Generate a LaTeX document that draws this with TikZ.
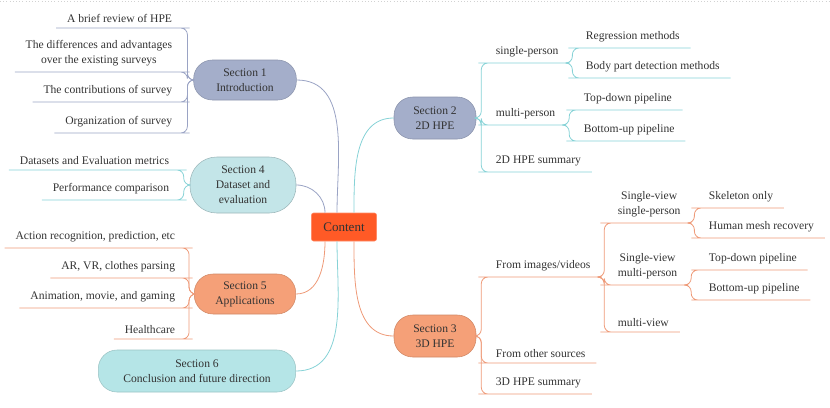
\documentclass[tikz,border=0pt]{standalone}
\usepackage{fontspec}
\setmainfont{Liberation Serif}
\usepackage{tikz}
\usetikzlibrary{positioning}
\definecolor{contentred}{HTML}{FF5A26}
\definecolor{bluegray}{HTML}{A4AECA}
\definecolor{lightcyan}{HTML}{C3E5E8}
\definecolor{cyanfill}{HTML}{B5E5E7}
\definecolor{salmon}{HTML}{F5A078}
\definecolor{linegray}{HTML}{9AA3C4}
\definecolor{linecyan}{HTML}{86D2D6}
\definecolor{linesalmon}{HTML}{EE9A78}
\definecolor{textgray}{HTML}{333333}

\begin{document}
\begin{tikzpicture}[x=0.75pt, y=-0.75pt, font=\fontsize{8.7}{11.25}\selectfont, text=textgray]
\tikzstyle{sect}=[rectangle, rounded corners=14pt, align=center, minimum height=30pt, inner sep=2pt, line width=0.4pt]
\tikzstyle{root}=[rectangle, rounded corners=1.5pt, fill=contentred, draw=contentred!70, minimum width=48.75pt, minimum height=21pt, font=\fontsize{9.8}{12}\selectfont]
\tikzstyle{lleaf}=[anchor=south east, inner xsep=8pt, inner ysep=4pt, align=center]
\tikzstyle{rleaf}=[anchor=south west, inner xsep=8pt, inner ysep=4pt, align=center]
\tikzstyle{link}=[line width=0.6pt, rounded corners=5pt]
\tikzstyle{linkA}=[link, draw=linegray]
\tikzstyle{linkB}=[link, draw=linecyan]
\tikzstyle{linkC}=[link, draw=linesalmon]

  \useasboundingbox (0,0) rectangle (830,407);
  \draw[gray!35, dotted] (0,1) -- (830,1);

  \node[root] (content) at (344,227) {Content};

  \node[sect, fill=bluegray, draw=bluegray!85!black, minimum width=77pt] (sec1) at (245,80) {Section 1\\Introduction};
  \node[sect, fill=bluegray, draw=bluegray!85!black, minimum width=61.5pt, minimum height=31.5pt] (sec2) at (435,118) {Section 2\\2D HPE};
  \node[sect, fill=lightcyan, draw=lightcyan!80!black, minimum width=79.5pt, minimum height=42pt, rounded corners=20pt] (sec4) at (243,185) {Section 4\\Dataset and\\evaluation};
  \node[sect, fill=salmon, draw=salmon!85!black, minimum width=76pt] (sec5) at (245,294) {Section 5\\Applications};
  \node[sect, fill=salmon, draw=salmon!85!black, minimum width=61.5pt, minimum height=31.5pt] (sec3) at (435,336) {Section 3\\3D HPE};
  \node[sect, fill=cyanfill, draw=cyanfill!85!black, minimum width=148pt, minimum height=31.5pt] (sec6) at (197,371) {Section 6\\Conclusion and future direction};

  \node[lleaf] (brief)   at (183,28)  {A brief review of HPE};
  \node[lleaf] (diff)    at (183,72)  {The differences and advantages\\over the existing surveys};
  \node[lleaf] (contrib) at (183,102) {The contributions of survey};
  \node[lleaf] (organ)   at (183,133) {Organization of survey};

  \node[lleaf] (metrics) at (180,170) {Datasets and Evaluation metrics};
  \node[lleaf] (perf)    at (180,200) {Performance comparison};

  \node[lleaf] (action)  at (186,248) {Action recognition, prediction, etc};
  \node[lleaf] (arvr)    at (186,278) {AR, VR, clothes parsing};
  \node[lleaf] (anim)    at (186,308) {Animation, movie, and gaming};
  \node[lleaf] (health)  at (186,339) {Healthcare};

  \node[rleaf] (single)  at (485,63)  {single-person};
  \node[rleaf] (multi)   at (485,125) {multi-person};
  \node[rleaf] (sumtwo)  at (485,172) {2D HPE summary};
  \node[rleaf] (regr)    at (575,48)  {Regression methods};
  \node[rleaf] (body)    at (575,78)  {Body part detection methods};
  \node[rleaf] (topdown) at (573,110) {Top-down pipeline};
  \node[rleaf] (botup)   at (573,141) {Bottom-up pipeline};

  \node[rleaf] (images)  at (485,277) {From images/videos};
  \node[rleaf] (other)   at (485,363) {From other sources};
  \node[rleaf] (sumthree) at (485,394) {3D HPE summary};
  \node[rleaf] (svsp)    at (607,223) {Single-view\\single-person};
  \node[rleaf] (svmp)    at (607,285) {Single-view\\multi-person};
  \node[rleaf] (mview)   at (607,332) {multi-view};
  \node[rleaf] (skel)    at (698,208) {Skeleton only};
  \node[rleaf] (mesh)    at (698,238) {Human mesh recovery};
  \node[rleaf] (topdownthree) at (698,270) {Top-down pipeline};
  \node[rleaf] (botupthree)   at (698,300) {Bottom-up pipeline};

  \path ([xshift=-5.25pt]content.north)  edge [linkA, out=90, in=0]   (sec1.east);
  \path ([xshift=-14.25pt]content.north) edge [linkA, out=90, in=0]   (sec4.east);
  \path ([xshift=7.5pt]content.north)    edge [linkB, out=90, in=180] (sec2.west);
  \path ([xshift=-14.25pt]content.south) edge [linkC, out=-90, in=0]  (sec5.east);
  \path ([xshift=-5.25pt]content.south)  edge [linkB, out=-90, in=0]  (sec6.east);
  \path ([xshift=7.5pt]content.south)    edge [linkC, out=-90, in=180] (sec3.west);

  \foreach \leaf in {brief, diff, contrib, organ}
    \draw[linkA] (sec1.west) -- ++(-6,0) |- (\leaf.south east) -- (\leaf.south west);
  \foreach \leaf in {metrics, perf}
    \draw[linkB] (sec4.west) -- ++(-6,0) |- (\leaf.south east) -- (\leaf.south west);
  \foreach \leaf in {action, arvr, anim, health}
    \draw[linkC] (sec5.west) -- ++(-5,0) |- (\leaf.south east) -- (\leaf.south west);

  \foreach \leaf in {single, multi, sumtwo}
    \draw[linkB] (sec2.east) -- ++(5,0) |- (\leaf.south west) -- (\leaf.south east);
  \foreach \leaf in {regr, body}
    \draw[linkB] (single.south east) -- ++(3,0) |- (\leaf.south west) -- (\leaf.south east);
  \foreach \leaf in {topdown, botup}
    \draw[linkB] (multi.south east) -- ++(3,0) |- (\leaf.south west) -- (\leaf.south east);

  \foreach \leaf in {images, other, sumthree}
    \draw[linkC] (sec3.east) -- ++(5,0) |- (\leaf.south west) -- (\leaf.south east);
  \foreach \leaf in {svsp, svmp, mview}
    \draw[linkC] (images.south east) -- ++(3,0) |- (\leaf.south west) -- (\leaf.south east);
  \foreach \leaf in {skel, mesh}
    \draw[linkC] (svsp.south east) -- ++(3,0) |- (\leaf.south west) -- (\leaf.south east);
  \foreach \leaf in {topdownthree, botupthree}
    \draw[linkC] (svmp.south east) -- ++(3,0) |- (\leaf.south west) -- (\leaf.south east);

\end{tikzpicture}
\end{document}
